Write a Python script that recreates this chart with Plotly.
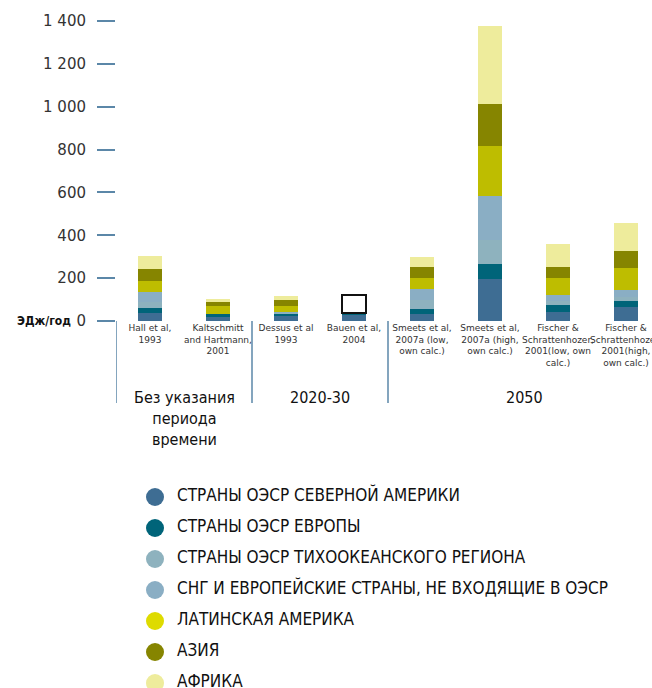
import plotly.graph_objects as go

# ---------------- data ----------------
studies = [
    "Hall et al,<br>1993",
    "Kaltschmitt<br>and Hartmann,<br>2001",
    "Dessus et al<br>1993",
    "Bauen et al,<br>2004",
    "Smeets et al,<br>2007a (low,<br>own calc.)",
    "Smeets et al,<br>2007a (high,<br>own calc.)",
    "Fischer &<br>Schrattenhozer,<br>2001(low, own<br>calc.)",
    "Fischer &<br>Schrattenhozer,<br>2001(high,<br>own calc.)",
]
north_america = [37, 19, 25, 28, 34, 196, 42, 65]
europe        = [24, 14, 8, 9, 23, 70, 33, 28]
pacific       = [28, 0, 5, 0, 40, 112, 20, 20]
cis           = [47, 0, 5, 0, 52, 207, 25, 33]
latin_america = [51, 37, 28, 0, 52, 232, 81, 101]
asia          = [56, 19, 27, 0, 51, 197, 51, 80]
africa        = [61, 14, 19, 0, 48, 363, 107, 130]
unspecified   = [None, None, None, 84, None, None, None, None]

series_names = [
    "СТРАНЫ ОЭСР СЕВЕРНОЙ АМЕРИКИ",
    "СТРАНЫ ОЭСР ЕВРОПЫ",
    "СТРАНЫ ОЭСР ТИХООКЕАНСКОГО РЕГИОНА",
    "СНГ И ЕВРОПЕЙСКИЕ СТРАНЫ, НЕ ВХОДЯЩИЕ В ОЭСР",
    "ЛАТИНСКАЯ АМЕРИКА",
    "АЗИЯ",
    "АФРИКА",
]
series_values = [north_america, europe, pacific, cis, latin_america, asia, africa]
bar_colors = ["#3E6D93", "#006479", "#8EB2BE", "#8AAEC4", "#BEBD00", "#868500", "#EEEC9C"]
legend_colors = ["#3E6D93", "#006479", "#8EB2BE", "#8AAEC4", "#DEDB00", "#868500", "#EEEC9C"]

groups = ["Без указания<br>периода<br>времени", "2020-30", "2050"]
group_centers = [0.5, 2.5, 5.5]
separators_x = [-0.5, 1.5, 3.5]
y_ticks = [0, 200, 400, 600, 800, 1000, 1200, 1400]

# ---------------- layout constants ----------------
W, H = 652, 688
M_L, M_T, M_B = 116, 10, 0
px_base, px_top = 321, 10
ppu = 300 / 1400.0  # pixels per unit
paper_h = H - M_T - M_B
def pfrac(py):
    return (H - M_B - py) / paper_h

axis_blue = "#5B87A8"
font_narrow = "Liberation Sans Narrow, DejaVu Sans Condensed, sans-serif"

fig = go.Figure()
x_idx = list(range(len(studies)))
for name, vals, col in zip(series_names, series_values, bar_colors):
    fig.add_trace(go.Bar(x=x_idx, y=vals, name=name, marker=dict(color=col, line=dict(width=0)),
                         showlegend=False, xaxis="x", yaxis="y"))
fig.add_trace(go.Bar(x=x_idx, y=unspecified, name="unspecified",
                     marker=dict(color="white", line=dict(color="#111111", width=2)),
                     showlegend=False))

# custom legend in its own subplot
leg_top_px, leg_row0_px, leg_step = 475, 497, 31
rows = list(range(len(series_names)))
r0 = (leg_row0_px - leg_top_px) / leg_step
r_bottom = -r0 + (H - M_B - leg_top_px) / leg_step
fig.add_trace(go.Scatter(x=[155] * len(rows), y=rows, mode="markers",
                         marker=dict(size=18, color=legend_colors, line=dict(width=0)),
                         showlegend=False, xaxis="x2", yaxis="y2", hoverinfo="skip"))
fig.add_trace(go.Scatter(x=[177] * len(rows), y=rows, mode="text", text=series_names,
                         textposition="middle right",
                         textfont=dict(family=font_narrow, size=17, color="#111111"),
                         showlegend=False, xaxis="x2", yaxis="y2", hoverinfo="skip"))

shapes = []
for sx in separators_x:
    shapes.append(dict(type="line", xref="x", yref="paper", x0=sx, x1=sx,
                       y0=pfrac(px_base), y1=pfrac(403),
                       line=dict(color=axis_blue, width=1.5)))

annotations = []
for g, c in zip(groups, group_centers):
    annotations.append(dict(text=g, xref="x", yref="paper", x=c, y=pfrac(386),
                            xanchor="center", yanchor="top", showarrow=False,
                            font=dict(family=font_narrow, size=16, color="#111111")))
annotations.append(dict(text="<b>ЭДж/год</b>", xref="paper", yref="paper",
                        x=(73 - M_L) / (W - M_L), y=pfrac(px_base), xanchor="right",
                        yanchor="middle", showarrow=False,
                        font=dict(family=font_narrow, size=12, color="#111111")))

fig.update_layout(
    width=W, height=H,
    margin=dict(l=M_L, r=0, t=M_T, b=M_B, pad=0, autoexpand=False),
    paper_bgcolor="white", plot_bgcolor="white",
    barmode="stack", bargap=0.66,
    separators=". ",
    showlegend=False,
    xaxis=dict(domain=[0, 1], range=[-0.5, -0.5 + (W - M_L) / 68.0], automargin=False,
               tickvals=x_idx, ticktext=studies, ticks="", showline=False,
               showgrid=False, zeroline=False, ticklabeloverflow="allow", tickangle=0,
               tickfont=dict(family="DejaVu Sans, sans-serif", size=9, color="#333333")),
    yaxis=dict(domain=[pfrac(px_base), 1], range=[0, (px_base - px_top) / ppu],
               automargin=False,
               tickvals=y_ticks, tickformat=",d", ticks="outside", ticklen=18,
               tickwidth=1.5, tickcolor=axis_blue, showline=False, showgrid=False,
               zeroline=False, ticklabelstandoff=8,
               tickfont=dict(family="DejaVu Sans, sans-serif", size=15, color="#333333")),
    xaxis2=dict(domain=[0, 1], range=[M_L, W], anchor="y2", visible=False, automargin=False),
    yaxis2=dict(domain=[0, pfrac(leg_top_px)], range=[r_bottom, -r0], anchor="x2",
                visible=False, automargin=False),
    shapes=shapes,
    annotations=annotations,
)

fig.write_html("out.html", config={"displayModeBar": False},
               post_script="document.body.style.margin='0';document.body.style.overflow='hidden';")
